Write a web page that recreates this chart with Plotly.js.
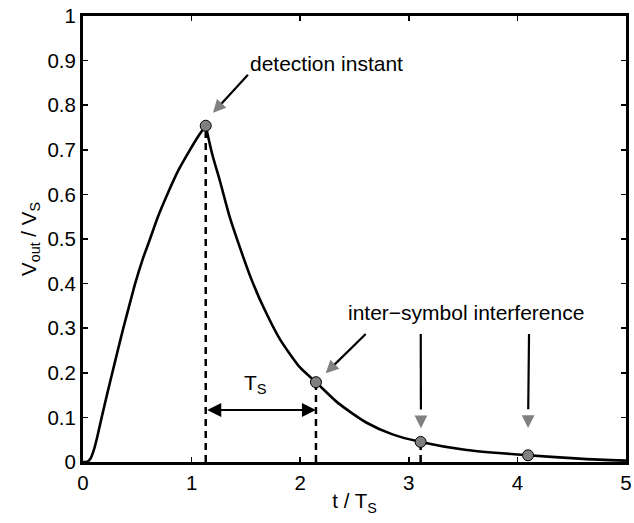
<!DOCTYPE html>
<html>
<head>
<meta charset="utf-8">
<script src="https://cdn.plot.ly/plotly-3.0.1.min.js"></script>
<style>html,body{margin:0;padding:0;background:#fff;}#chart{width:634px;height:523px;}</style>
</head>
<body>
<div id="chart"></div>
<script>
// Response curve: rising part (up to the detection instant) and decaying part
const riseT = [0, 0.035, 0.07, 0.1, 0.13, 0.172, 0.22, 0.27, 0.32, 0.371, 0.42, 0.48, 0.55, 0.617, 0.69, 0.776, 0.88, 0.985, 1.06, 1.13];
const riseV = [0, 0, 0.008, 0.027, 0.055, 0.1, 0.15, 0.2, 0.25, 0.3, 0.345, 0.4, 0.455, 0.5, 0.55, 0.6, 0.655, 0.7, 0.73, 0.754];
const fallT = [1.13, 1.19, 1.261, 1.35, 1.446, 1.55, 1.66, 1.814, 1.998, 2.145, 2.35, 2.612, 2.85, 3.109, 3.533, 4.098, 4.607, 5.0];
const fallV = [0.754, 0.69, 0.63, 0.55, 0.48, 0.41, 0.348, 0.275, 0.212, 0.179, 0.132, 0.088, 0.062, 0.045, 0.027, 0.015, 0.007, 0.003];

// Sampling instants (grey dots)
const sampleT = [1.13, 2.145, 3.109, 4.098];
const sampleV = [0.754, 0.179, 0.045, 0.015];

// Dashed drop lines under samples
const dropT = [1.13, 2.145, 3.109];
const dropV = [0.754, 0.179, 0.045];

// T_S span arrow
const spanStart = 1.13, spanEnd = 2.145, spanLevel = 0.1166;

// Annotation arrows: tail and tip (data units)
const arrowTailT = [1.519, 2.603, 3.110, 4.107];
const arrowTailV = [0.868, 0.287, 0.287, 0.287];
const arrowTipT  = [1.197, 2.235, 3.112, 4.098];
const arrowTipV  = [0.783, 0.199, 0.0756, 0.076];

// Labels
const labelTexts = ["detection instant", "inter\u2212symbol interference", "T<sub>S</sub>"];
const labelT = [2.24, 3.53, 1.59];
const labelV = [0.893, 0.336, 0.174];

const xTicks = [0, 1, 2, 3, 4, 5];
const yTicks = [0, 0.1, 0.2, 0.3, 0.4, 0.5, 0.6, 0.7, 0.8, 0.9, 1];

const FONT = "Liberation Sans, Arial, Helvetica, sans-serif";

const curveLine = {color: '#000', width: 2.6, shape: 'spline', smoothing: 0.6};
const traces = [
  {x: riseT, y: riseV, mode: 'lines', line: curveLine, hoverinfo: 'skip', showlegend: false},
  {x: fallT, y: fallV, mode: 'lines', line: curveLine, hoverinfo: 'skip', showlegend: false},
  {x: sampleT, y: sampleV, mode: 'markers', marker: {symbol: 'circle', size: 11, color: '#808080', line: {color: '#000', width: 1}}, showlegend: false, hoverinfo: 'skip'}
];

const shapes = [];
for (let i = 0; i < dropT.length; i++) {
  shapes.push({type: 'line', xref: 'x', yref: 'y', x0: dropT[i], x1: dropT[i], y0: 0, y1: dropV[i],
    line: {color: '#000', width: 2.5, dash: '7px,5px'}, layer: 'below'});
}
for (let i = 0; i < arrowTailT.length; i++) {
  // black shaft
  shapes.push({type: 'line', xref: 'x', yref: 'y', x0: arrowTailT[i], y0: arrowTailV[i],
    x1: arrowTipT[i] + (arrowTailT[i] - arrowTipT[i]) * 0.2, y1: arrowTipV[i] + (arrowTailV[i] - arrowTipV[i]) * 0.2,
    line: {color: '#000', width: 2.2}});
}

const annotations = [];
for (let i = 0; i < arrowTipT.length; i++) {
  const dxp = (arrowTailT[i] - arrowTipT[i]) * 108.6;
  const dyp = -(arrowTailV[i] - arrowTipV[i]) * 446;
  const L = Math.sqrt(dxp * dxp + dyp * dyp);
  annotations.push({x: arrowTipT[i], y: arrowTipV[i], xref: 'x', yref: 'y', text: '', showarrow: true,
    arrowhead: 2, arrowsize: 1.6, arrowwidth: 1.6, arrowcolor: '#808080',
    ax: dxp / L * 12, ay: dyp / L * 12, standoff: 0});
}
// T_S double arrow
annotations.push({x: spanEnd, y: spanLevel, ax: spanStart, ay: spanLevel, xref: 'x', yref: 'y', axref: 'x', ayref: 'y',
  text: '', showarrow: true, arrowhead: 2, startarrowhead: 2, arrowside: 'end+start', arrowsize: 1.4, startarrowsize: 1.4, arrowwidth: 2, arrowcolor: '#000', standoff: 0, startstandoff: 0});
for (let i = 0; i < labelTexts.length; i++) {
  annotations.push({x: labelT[i], y: labelV[i], xref: 'x', yref: 'y', text: labelTexts[i], showarrow: false,
    xanchor: 'center', yanchor: 'middle', font: {family: FONT, size: 21, color: '#000'}});
}

const axisCommon = {
  showgrid: false, zeroline: false, showline: true, linecolor: '#000', linewidth: 3, mirror: 'ticks',
  ticks: 'inside', ticklen: 5, tickwidth: 1.5, tickcolor: '#000',
  tickfont: {family: FONT, size: 20.5, color: '#000'}
};

const layout = {
  width: 634, height: 523,
  margin: {l: 83, r: 8, t: 16, b: 61},
  paper_bgcolor: '#fff', plot_bgcolor: '#fff',
  showlegend: false,
  font: {family: FONT, color: '#000'},
  xaxis: Object.assign({}, axisCommon, {range: [0, 5], tickvals: xTicks, ticktext: xTicks.map(String),
    title: {text: 't / T<sub>S</sub>', font: {family: FONT, size: 20.5}, standoff: 2}}),
  yaxis: Object.assign({}, axisCommon, {range: [0, 1], tickvals: yTicks, ticktext: yTicks.map(String),
    title: {text: 'V<sub>out</sub> / V<sub>S</sub>', font: {family: FONT, size: 20.5}, standoff: 6}}),
  shapes: shapes,
  annotations: annotations
};

Plotly.newPlot('chart', traces, layout, {displayModeBar: false, staticPlot: true});
</script>
</body>
</html>
